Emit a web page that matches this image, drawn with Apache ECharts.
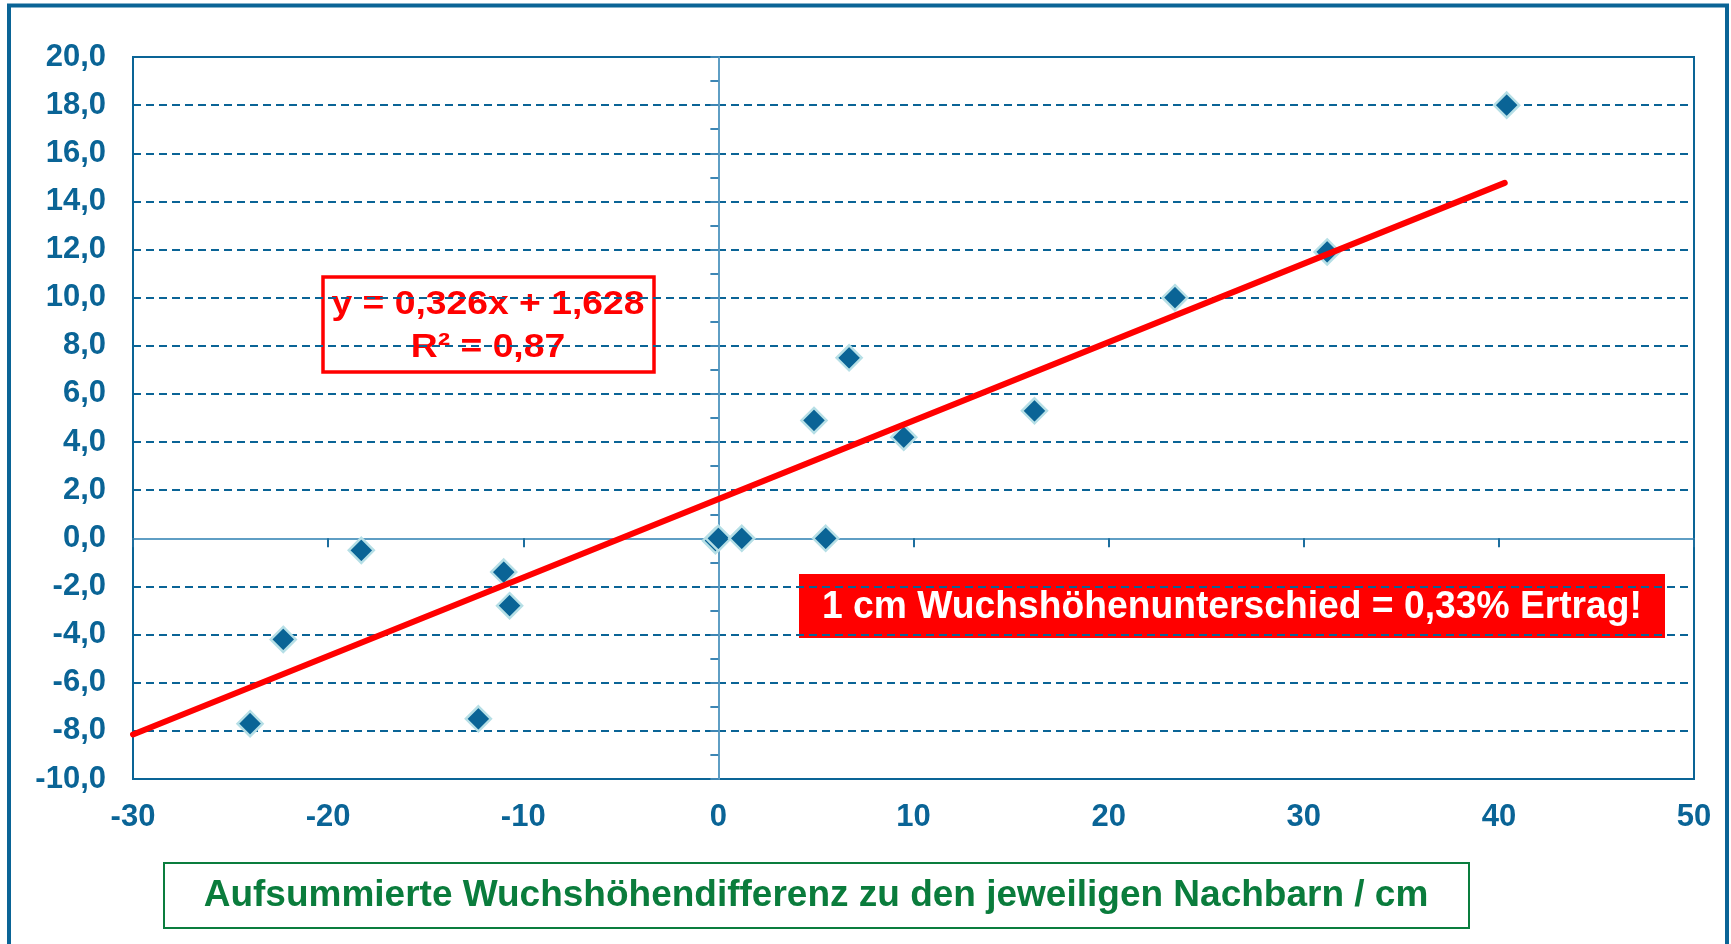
<!DOCTYPE html>
<html>
<head>
<meta charset="utf-8">
<script src="https://cdn.jsdelivr.net/npm/echarts@6/dist/echarts.min.js"></script>
<style>
  html, body { margin: 0; padding: 0; background: #fff; }
  #chart { width: 1731px; height: 944px; }
</style>
</head>
<body>
<div id="chart"></div>
<script>
// Messpunkte: Wuchshöhendifferenz (x) / Ertragsdifferenz in % (y)
const xValues = [-24.0, -22.3, -18.3, -12.3, -11.0, -10.7, -0.15, 0.0, 1.2, 5.5, 4.9, 6.7, 9.5, 16.2, 23.4, 31.2, 40.4];
const yValues = [-7.7, -4.2, -0.5, -7.5, -1.4, -2.8, -0.1, 0.0, 0.0, 0.0, 4.9, 7.5, 4.2, 5.3, 10.0, 11.9, 18.0];

// Trendlinie (Endpunkte)
const trendX = [-30, 40.3];
const trendY = [-8.15, 14.77];

const xTicks = { min: -30, max: 50, step: 10 };
const yTicks = { min: -10, max: 20, step: 2 };

const equationLines = ['y = 0,326x + 1,628', 'R² = 0,87'];
const noteText = '1 cm Wuchshöhenunterschied = 0,33% Ertrag!';
const xTitle = 'Aufsummierte Wuchshöhendifferenz zu den jeweiligen Nachbarn / cm';

const blue = '#0a6496';
const lightBlue = '#5f9ec4';
const font = '"Liberation Sans", Arial, sans-serif';

const chart = echarts.init(document.getElementById('chart'));

const option = {
  backgroundColor: '#fff',
  animation: false,
  grid: {
    left: 133, top: 57, right: 37, bottom: 165,
    show: true,
    backgroundColor: '#fff',
    borderColor: blue,
    borderWidth: 2
  },
  xAxis: [
    {
      type: 'value',
      min: xTicks.min, max: xTicks.max, interval: xTicks.step,
      axisLine: { show: false, onZero: false },
      axisTick: { show: false },
      splitLine: { show: false },
      axisLabel: {
        color: blue, fontSize: 31, fontWeight: 'bold', fontFamily: font, margin: 23
      }
    },
    {
      type: 'value',
      position: 'bottom',
      min: xTicks.min, max: xTicks.max, interval: xTicks.step,
      axisLine: { show: true, onZero: true, onZeroAxisIndex: 0, lineStyle: { color: lightBlue, width: 2 } },
      axisTick: { show: true, length: 9, lineStyle: { color: '#1d6e9e', width: 2 } },
      axisLabel: { show: false },
      splitLine: { show: false }
    }
  ],
  yAxis: [
    {
      type: 'value',
      min: yTicks.min, max: yTicks.max, interval: yTicks.step,
      axisLine: { show: false, onZero: false },
      axisTick: { show: false },
      splitLine: { show: true, lineStyle: { color: blue, width: 2, type: [8, 5] } },
      axisLabel: {
        color: blue, fontSize: 31, fontWeight: 'bold', fontFamily: font, margin: 27,
        formatter: v => v.toFixed(1).replace('.', ',')
      }
    },
    {
      type: 'value',
      position: 'left',
      min: yTicks.min, max: yTicks.max, interval: 1,
      axisLine: { show: true, onZero: true, onZeroAxisIndex: 0, lineStyle: { color: lightBlue, width: 2 } },
      axisTick: { show: true, length: 8, lineStyle: { color: '#3d86b4', width: 2 } },
      axisLabel: { show: false },
      splitLine: { show: false }
    }
  ],
  series: [
    {
      type: 'scatter',
      data: xValues.map((x, i) => [x, yValues[i]]),
      symbol: 'diamond',
      symbolSize: 25,
      itemStyle: { color: blue, opacity: 1, borderColor: '#b6dfe6', borderWidth: 2.5 },
      z: 3
    },
    {
      type: 'line',
      data: trendX.map((x, i) => [x, trendY[i]]),
      symbol: 'none',
      lineStyle: { color: '#ff0000', width: 6, cap: 'round' },
      z: 4
    }
  ],
  graphic: [
    {
      type: 'rect', z: 100, silent: true,
      shape: { x: 9, y: 5.5, width: 1718, height: 1000 },
      style: { fill: null, stroke: blue, lineWidth: 4 }
    },
    {
      type: 'group', z: 100,
      children: [
        {
          type: 'rect',
          shape: { x: 323, y: 277, width: 331, height: 95 },
          style: { fill: '#fff', stroke: '#ff0000', lineWidth: 3.5 }
        },
        {
          type: 'text', x: 488, y: 305, scaleX: 1.13,
          style: { text: equationLines[0], fill: '#ff0000', font: 'bold 33px ' + font, textAlign: 'center', textVerticalAlign: 'middle' }
        },
        {
          type: 'text', x: 488, y: 348, scaleX: 1.13,
          style: { text: equationLines[1], fill: '#ff0000', font: 'bold 33px ' + font, textAlign: 'center', textVerticalAlign: 'middle' }
        }
      ]
    },
    {
      type: 'group', z: 100,
      children: [
        {
          type: 'rect',
          shape: { x: 799, y: 574, width: 866, height: 64 },
          style: { fill: '#ff0000' }
        },
        {
          type: 'text', x: 1232, y: 607, scaleX: 0.955,
          style: { text: noteText, fill: '#fff', font: 'bold 39px ' + font, textAlign: 'center', textVerticalAlign: 'middle' }
        }
      ]
    },
    {
      type: 'group', z: 100,
      children: [
        {
          type: 'rect',
          shape: { x: 164, y: 863, width: 1305, height: 65 },
          style: { fill: '#fff', stroke: '#0a7d3e', lineWidth: 2 }
        },
        {
          type: 'text', x: 816, y: 896,
          style: { text: xTitle, fill: '#0a7c3c', font: 'bold 37px ' + font, textAlign: 'center', textVerticalAlign: 'middle' }
        }
      ]
    }
  ]
};

chart.setOption(option);
window.addEventListener('resize', () => chart.resize());
</script>
</body>
</html>
